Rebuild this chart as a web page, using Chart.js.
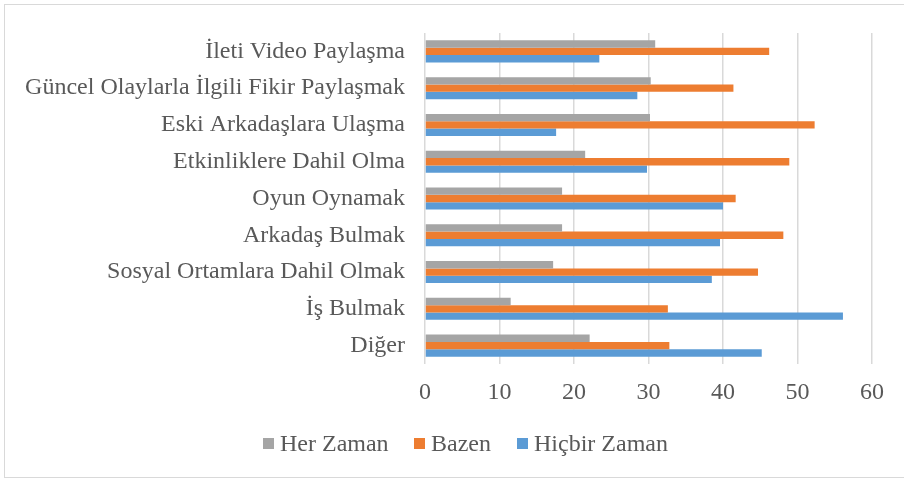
<!DOCTYPE html>
<html>
<head>
<meta charset="utf-8">
<script src="https://cdn.jsdelivr.net/npm/chart.js@4.4.1/dist/chart.umd.min.js"></script>
<style>
  body { margin: 0; background: #fff; }
  #wrap { position: relative; width: 904px; height: 480px; overflow: hidden; }
  #frame { position: absolute; left: 4px; top: 4px; width: 920px; height: 474px; border: 1px solid #d9d9d9; box-sizing: border-box; }
  #chart { position: absolute; left: 0; top: 0; }
  #legend { position: absolute; left: 0; top: 428px; width: 904px; height: 30px; font-family: 'Liberation Serif', 'Times New Roman', serif; font-size: 24px; color: #595959; }
  #legend .item { position: absolute; top: 0; display: flex; align-items: center; height: 30px; white-space: nowrap; }
  #legend .box { width: 11px; height: 11px; margin-right: 6px; }
</style>
</head>
<body>
<div id="wrap">
  <div id="frame"></div>
  <canvas id="chart" width="904" height="480"></canvas>
  <div id="legend"></div>
</div>
<script>
  const categories = [
    'İleti Video Paylaşma',
    'Güncel Olaylarla İlgili Fikir Paylaşmak',
    'Eski Arkadaşlara Ulaşma',
    'Etkinliklere Dahil Olma',
    'Oyun Oynamak',
    'Arkadaş Bulmak',
    'Sosyal Ortamlara Dahil Olmak',
    'İş Bulmak',
    'Diğer'
  ];
  const seriesNames = ['Her Zaman', 'Bazen', 'Hiçbir Zaman'];
  const herZaman = [30.9, 30.3, 30.2, 21.5, 18.4, 18.4, 17.2, 11.5, 22.1];
  const bazen = [46.2, 41.4, 52.3, 48.9, 41.7, 48.1, 44.7, 32.6, 32.8];
  const hicbirZaman = [23.4, 28.5, 17.6, 29.8, 40.0, 39.6, 38.5, 56.1, 45.2];
  const xTicks = [0, 10, 20, 30, 40, 50, 60];
  const colors = ['#A5A5A5', '#ED7D31', '#5B9BD5'];

  const FONT = "'Liberation Serif', 'Times New Roman', serif";
  const TEXT = '#595959';

  const datasets = [herZaman, bazen, hicbirZaman].map((vals, i) => ({
    label: seriesNames[i],
    data: vals,
    backgroundColor: colors[i],
    borderWidth: 0,
    barPercentage: 1,
    categoryPercentage: 0.6
  }));

  new Chart(document.getElementById('chart'), {
    type: 'bar',
    data: { labels: categories, datasets: datasets },
    options: {
      indexAxis: 'y',
      responsive: false,
      animation: false,
      layout: { padding: { top: 33, right: 32, bottom: 56, left: 0 } },
      plugins: { legend: { display: false }, tooltip: { enabled: false } },
      scales: {
        x: {
          min: 0, max: 60,
          afterBuildTicks: axis => { axis.ticks = xTicks.map(v => ({ value: v })); },
          grid: { color: '#d9d9d9', lineWidth: 1.5, drawTicks: false },
          border: { display: false },
          ticks: { color: TEXT, padding: 14, font: { family: FONT, size: 24 } },
          afterFit: s => { s.height = 60; }
        },
        y: {
          grid: { display: false },
          border: { display: false },
          ticks: { color: TEXT, padding: 12, font: { family: FONT, size: 24 } },
          afterFit: s => { s.width = 425; }
        }
      }
    }
  });

  // legend kept as html so the box-to-text gap matches
  const legendPos = [263, 414, 517];
  const legend = document.getElementById('legend');
  seriesNames.forEach((name, i) => {
    const item = document.createElement('div');
    item.className = 'item';
    item.style.left = legendPos[i] + 'px';
    item.innerHTML = `<span class="box" style="background:${colors[i]}"></span><span>${name}</span>`;
    legend.appendChild(item);
  });
</script>
</body>
</html>
